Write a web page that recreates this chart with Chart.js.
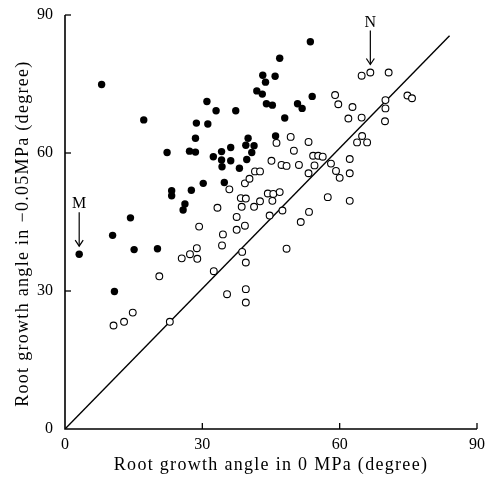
<!DOCTYPE html>
<html>
<head>
<meta charset="utf-8">
<script src="https://cdn.jsdelivr.net/npm/chart.js@4/dist/chart.umd.min.js"></script>
<style>
  html, body { margin: 0; padding: 0; background: #fff; }
  #wrap { width: 488px; height: 480px; }
</style>
</head>
<body>
<div id="wrap"><canvas id="rootChart" width="488" height="480"></canvas></div>
<script>
// filled circles
const filledX = [3.1, 8.0, 10.4, 10.8, 14.3, 15.1, 17.2, 20.2, 22.3, 23.3, 23.3, 25.8, 26.2, 27.6, 28.5, 27.2, 28.5, 28.7, 30.2, 31.0,
    31.2, 32.4, 33.0, 34.2, 34.2, 34.3, 34.8, 36.2, 36.2, 37.3, 38.1, 39.5, 40.0, 41.3, 40.8, 39.7, 41.9, 43.1, 43.2, 43.8,
    44.0, 45.3, 45.9, 46.0, 46.9, 48.0, 50.8, 51.8, 53.6, 54.0];
const filledY = [38.0, 74.9, 42.1, 29.9, 45.9, 39.0, 67.2, 39.2, 60.1, 51.8, 50.7, 47.6, 48.9, 51.9, 63.2, 60.4, 60.2, 66.5, 53.4, 71.2,
    66.3, 59.2, 69.2, 60.3, 58.5, 57.0, 53.6, 61.2, 58.3, 69.2, 56.7, 61.7, 63.2, 61.6, 60.1, 58.6, 73.5, 72.8, 76.9, 75.4,
    70.7, 70.4, 76.7, 63.7, 80.6, 67.6, 70.7, 69.7, 84.2, 72.3];

// open circles
const openX = [10.6, 12.9, 14.8, 20.6, 22.9, 25.5, 27.3, 28.8, 28.9, 29.3, 32.5, 33.3, 34.3, 34.5, 35.4, 35.9, 37.5, 37.5, 38.4, 38.6,
    38.7, 39.3, 39.3, 39.5, 39.5, 39.5, 39.5, 40.3, 41.3, 41.5, 42.6, 42.6, 44.3, 44.7, 45.1, 45.3, 45.5, 46.2, 46.9, 47.3,
    47.5, 48.4, 48.4, 49.3, 50.0, 51.1, 51.5, 53.2, 53.2, 53.3, 54.2, 55.3, 56.3, 54.5, 57.4, 58.1, 59.0, 59.2, 59.7, 60.0,
    61.9, 62.2, 62.2, 62.2, 62.8, 63.8, 64.8, 64.8, 64.9, 66.0, 66.7, 69.9, 70.0, 70.0, 70.7, 74.8, 75.8];
const openY = [22.5, 23.3, 25.3, 33.2, 23.3, 37.1, 38.0, 39.3, 37.0, 44.0, 34.3, 48.1, 39.9, 42.3, 29.3, 52.1, 46.1, 43.3, 50.2, 48.3,
    38.5, 53.4, 44.2, 50.1, 36.2, 30.4, 27.5, 54.4, 48.3, 56.0, 56.0, 49.5, 51.2, 46.4, 58.3, 49.6, 51.1, 62.2, 51.5, 57.4,
    47.5, 57.2, 39.2, 63.5, 60.5, 57.4, 45.0, 62.4, 55.6, 47.2, 59.4, 59.4, 59.2, 57.3, 50.4, 57.7, 72.6, 56.1, 70.6, 54.6,
    67.5, 58.7, 55.6, 49.6, 70.0, 62.3, 76.8, 67.7, 63.7, 62.3, 77.5, 66.9, 71.5, 69.7, 77.5, 72.5, 71.9];

// 1:1 reference line end points
const lineX = [0, 84];
const lineY = [0, 85.5];

const tickValues = [0, 30, 60, 90];

// labelled points with arrows
const markLabels = ['M', 'N'];
const markX = [3.1, 66.7];
const markY = [38.0, 77.5];

const serif = '"Liberation Serif", "DejaVu Serif", serif';

function toPoints(xs, ys) {
    return xs.map((x, i) => ({ x: x, y: ys[i] }));
}

// wider letter spacing for the axis titles only (tick labels are drawn later, at z 1)
const spacingPlugin = {
    id: 'spacingPlugin',
    beforeDraw(chart) { chart.ctx.letterSpacing = '1.3px'; },
    beforeDatasetsDraw(chart) { chart.ctx.letterSpacing = '0px'; }
};

const axesPlugin = {
    id: 'axesPlugin',
    afterDatasetsDraw(chart) {
        const ctx = chart.ctx;
        const xs = chart.scales.x, ys = chart.scales.y;
        const x0 = xs.getPixelForValue(0), y0 = ys.getPixelForValue(0);
        const xEnd = xs.getPixelForValue(90), yEnd = ys.getPixelForValue(90);
        ctx.save();
        ctx.strokeStyle = '#000';
        ctx.lineWidth = 1.6;
        ctx.beginPath();
        ctx.moveTo(x0, yEnd);
        ctx.lineTo(x0, y0);
        ctx.lineTo(xEnd, y0);
        ctx.stroke();
        ctx.lineWidth = 1.3;
        tickValues.slice(1).forEach(v => {
            const px = xs.getPixelForValue(v);
            ctx.beginPath();
            ctx.moveTo(px, y0);
            ctx.lineTo(px, y0 - 6);
            ctx.stroke();
            const py = ys.getPixelForValue(v);
            ctx.beginPath();
            ctx.moveTo(x0, py);
            ctx.lineTo(x0 + 6, py);
            ctx.stroke();
        });

        // arrows with letters
        ctx.fillStyle = '#000';
        ctx.font = '16px ' + serif;
        ctx.textAlign = 'center';
        ctx.textBaseline = 'middle';
        ctx.lineWidth = 1.2;
        markLabels.forEach((t, i) => {
            const px = xs.getPixelForValue(markX[i]);
            const py = ys.getPixelForValue(markY[i]);
            ctx.fillText(t, px, py - 50);
            ctx.beginPath();
            ctx.moveTo(px, py - 42);
            ctx.lineTo(px, py - 8);
            ctx.stroke();
            ctx.beginPath();
            ctx.moveTo(px - 4, py - 14);
            ctx.lineTo(px, py - 8);
            ctx.lineTo(px + 4, py - 14);
            ctx.stroke();
        });
        ctx.restore();
    }
};

const ctx = document.getElementById('rootChart').getContext('2d');

const rootChart = new Chart(ctx, {
    type: 'scatter',
    data: {
        datasets: [
            {
                label: '1:1',
                type: 'line',
                data: toPoints(lineX, lineY),
                borderColor: '#000',
                borderWidth: 1.4,
                pointRadius: 0,
                fill: false,
                order: 3
            },
            {
                label: 'open',
                data: toPoints(openX, openY),
                backgroundColor: '#fff',
                borderColor: '#000',
                borderWidth: 1.1,
                pointRadius: 3.4,
                order: 2
            },
            {
                label: 'filled',
                data: toPoints(filledX, filledY),
                backgroundColor: '#000',
                borderColor: '#000',
                borderWidth: 0,
                pointRadius: 3.7,
                order: 1
            }
        ]
    },
    options: {
        responsive: false,
        animation: false,
        layout: { padding: { left: 0, top: 15, right: 11, bottom: 0 } },
        plugins: { legend: { display: false }, tooltip: { enabled: false } },
        scales: {
            x: {
                type: 'linear',
                min: 0, max: 90,
                afterBuildTicks: s => { s.ticks = tickValues.map(v => ({ value: v })); },
                grid: { display: false, drawTicks: true, tickLength: 3 },
                border: { display: false },
                ticks: { color: '#000', padding: 3, z: 1, font: { family: serif, size: 16 }, maxRotation: 0 },
                title: {
                    display: true,
                    text: 'Root growth angle in 0 MPa (degree)',
                    color: '#000',
                    font: { family: serif, size: 18 },
                    padding: { top: 0, bottom: 4 }
                },
                afterFit: s => { s.height = 51; }
            },
            y: {
                type: 'linear',
                min: 0, max: 90,
                afterBuildTicks: s => { s.ticks = tickValues.map(v => ({ value: v })); },
                grid: { display: false, drawTicks: true, tickLength: 9 },
                border: { display: false },
                ticks: { color: '#000', padding: 3, z: 1, font: { family: serif, size: 16 } },
                title: {
                    display: true,
                    // trailing spaces move the visible text a little lower, as in the figure
                    text: 'Root growth angle in \u22120.05MPa (degree)    ',
                    color: '#000',
                    font: { family: serif, size: 18 },
                    padding: { top: 12, bottom: 0 }
                },
                afterFit: s => { s.width = 65; }
            }
        }
    },
    plugins: [spacingPlugin, axesPlugin]
});
</script>
</body>
</html>
